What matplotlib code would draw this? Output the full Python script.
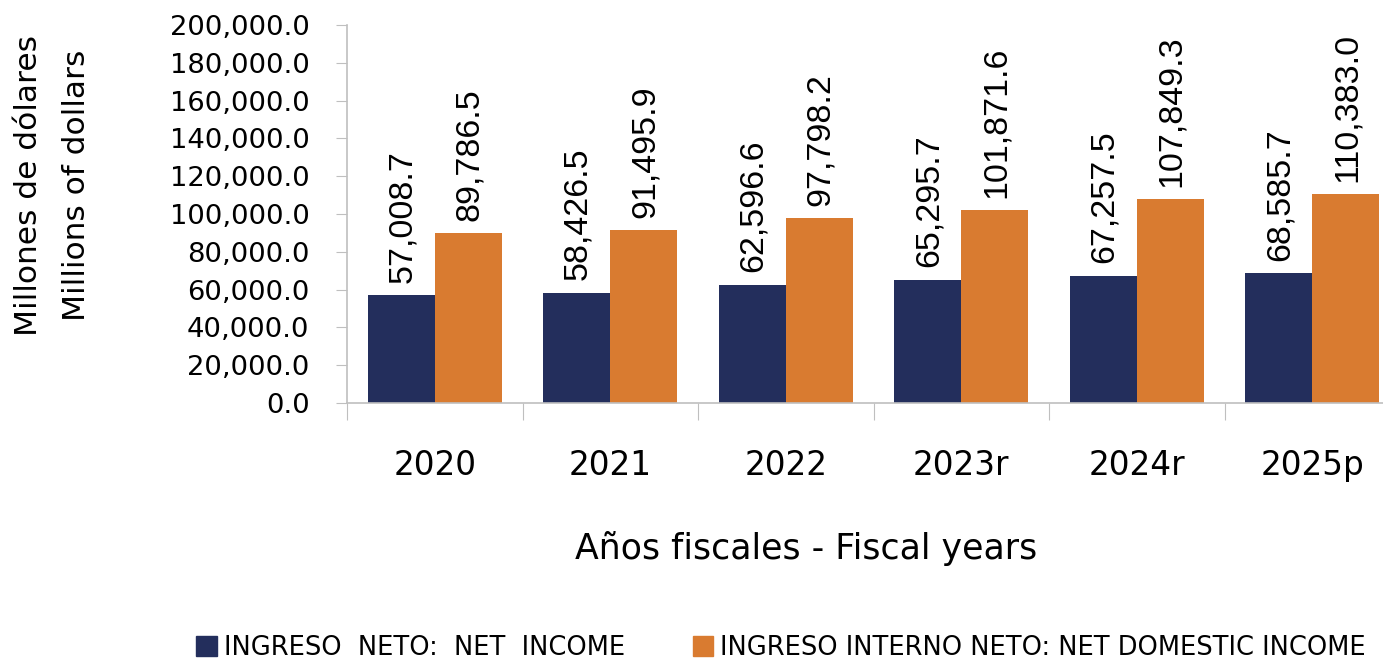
import matplotlib
matplotlib.use("Agg")

import matplotlib.pyplot as plt
import numpy as np
from matplotlib.patches import Patch

# --- Data ---
years = ["2020", "2021", "2022", "2023r", "2024r", "2025p"]
net_income = [57008.7, 58426.5, 62596.6, 65295.7, 67257.5, 68585.7]
net_domestic = [89786.5, 91495.9, 97798.2, 101871.6, 107849.3, 110383.0]
series_names = ["INGRESO  NETO:  NET  INCOME",
                "INGRESO INTERNO NETO: NET DOMESTIC INCOME"]

NAVY = "#232E5C"
ORANGE = "#D97B30"
GREY = "#BFBFBF"


def main():
    plt.rcParams["font.family"] = ["DejaVu Sans"]

    fig = plt.figure(figsize=(13.83, 6.62), dpi=100)
    # axes extends past the right edge, like the cropped original
    ax = fig.add_axes([347 / 1383, 1 - 403 / 662, 1053 / 1383, 378 / 662])

    x = np.arange(len(years))
    w = 0.382
    b1 = ax.bar(x - w / 2, net_income, w, color=NAVY, zorder=2)
    b2 = ax.bar(x + w / 2, net_domestic, w, color=ORANGE, zorder=2)

    # value labels, rotated, just above each bar
    for bars in (b1, b2):
        for rect in bars:
            v = rect.get_height()
            ax.annotate(f"{v:,.1f}", (rect.get_x() + rect.get_width() / 2, v),
                        xytext=(1, 9), textcoords="offset points",
                        rotation=90, ha="center", va="bottom",
                        fontsize=24.5, family="Liberation Sans")

    ax.set_xlim(-0.5, len(years) - 0.5)
    ax.set_ylim(0, 200000)
    ax.set_yticks(np.arange(0, 200001, 20000))
    ax.yaxis.set_major_formatter(matplotlib.ticker.FuncFormatter(lambda v, p: f"{v:,.1f}"))
    ax.tick_params(axis="y", labelsize=19.7, length=8, color=GREY, pad=19)

    # category boundary ticks on x, labels centered
    ax.set_xticks(np.arange(-0.5, len(years), 1.0))
    ax.set_xticklabels([])
    ax.set_xticks(x, minor=True)
    ax.set_xticklabels(years, minor=True, fontsize=23.5)
    ax.tick_params(axis="x", which="major", length=12, color=GREY)
    ax.tick_params(axis="x", which="minor", length=0, pad=33)

    for s in ["top", "right"]:
        ax.spines[s].set_visible(False)
    for s in ["left", "bottom"]:
        ax.spines[s].set_color(GREY)
        ax.spines[s].set_linewidth(1.2)

    fig.text(806 / 1383, 1 - 548 / 662, "Años fiscales - Fiscal years",
             fontsize=25, ha="center", va="center")
    fig.text(29 / 1383, 1 - 186 / 662, "Millones de dólares", rotation=90,
             fontsize=22.5, ha="center", va="center")
    fig.text(77 / 1383, 1 - 185 / 662, "Millions of dollars", rotation=90,
             fontsize=22.5, ha="center", va="center")

    handles = [Patch(color=NAVY), Patch(color=ORANGE)]
    fig.legend(handles, series_names, loc="center", ncol=2,
               bbox_to_anchor=(781 / 1383, 1 - 648 / 662), frameon=False,
               prop={"size": 18.5},
               handlelength=0.8, handleheight=0.8, handletextpad=0.27,
               columnspacing=2.65, borderpad=0)

    fig.savefig("out.png", dpi=100)
    plt.close(fig)


if __name__ == "__main__":
    main()
